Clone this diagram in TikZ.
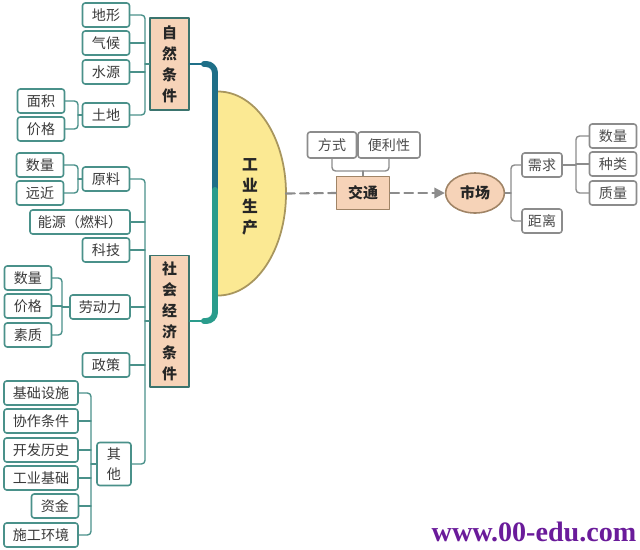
\documentclass[tikz,border=0pt]{standalone}
\usepackage{fontspec}
\setmainfont{Noto Sans CJK SC}
\newfontfamily\wmfont{Liberation Serif}
\usetikzlibrary{arrows.meta,shapes.geometric}
\definecolor{tl}{HTML}{4A918A}
\definecolor{pch}{HTML}{F6D3B8}
\definecolor{ylw}{HTML}{FBE993}
\definecolor{olv}{HTML}{A8965E}
\definecolor{barA}{HTML}{1F6F88}
\definecolor{barB}{HTML}{2A9C8C}
\definecolor{gr}{HTML}{8C8C8C}
\definecolor{brn}{HTML}{A08466}
\definecolor{txt}{HTML}{3A3A3A}
\definecolor{wmc}{HTML}{6A1B9A}

\begin{document}
\begin{tikzpicture}[x=0.02cm, y=-0.02cm, line join=round, line cap=round,
	font=\fontsize{8}{10}\selectfont,
	bx/.style={draw=tl, line width=0.9pt, rounded corners=1.5pt, fill=white, text=txt,
		minimum width=0.94cm, minimum height=0.48cm, inner sep=1pt},
	gbx/.style={bx, draw=gr, text=black!70},
	big/.style={draw=tl!80!black, line width=0.9pt, fill=pch, minimum width=0.78cm,
		font=\fontsize{8.5}{12}\selectfont\bfseries, text=black!85, align=center},
	ln/.style={draw=tl, line width=0.8pt, rounded corners=2pt},
	gln/.style={ln, draw=gr}]
	\useasboundingbox (0,0) rectangle (640,549);
	% spine positions
	\coordinate (zs) at (145,0); \coordinate (ts) at (78,0);
	\coordinate (ss) at (145,0); \coordinate (ys) at (78,0);
	\coordinate (ls) at (62,0);  \coordinate (os) at (91,0);
	\coordinate (ms) at (511,0); \coordinate (xs) at (576,0);
	% natural conditions
	\node[bx] (dx) at (106,15) {地形};
	\node[bx] (qh) at (106,43) {气候};
	\node[bx] (sy) at (106,72) {水源};
	\node[bx] (td) at (106,115) {土地};
	\node[bx] (mj) at (41,101) {面积};
	\node[bx] (jg) at (41,129) {价格};
	\node[big, minimum height=1.84cm] (zr) at (169.5,64) {自\\然\\条\\件};
	\draw[ln] (dx.east) -| (zs |- td.east) -- (td.east);
	\foreach \n in {qh,sy} \draw[ln] (\n.east) -- (\n.east -| zs);
	\draw[ln] (zs |- zr.west) -- (zr.west);
	\draw[ln] (mj.east) -| (ts |- jg.east) -- (jg.east);
	\draw[ln] (ts |- td.west) -- (td.west);
	% social and economic conditions
	\node[bx] (slA) at (40,165) {数量};
	\node[bx] (yj) at (40,193) {远近};
	\node[bx] (yl) at (106,179) {原料};
	\node[bx, minimum width=2cm] (ny) at (80,222) {能源（燃料）};
	\node[bx] (kj) at (106,250) {科技};
	\node[bx] (slB) at (28,278) {数量};
	\node[bx] (jgB) at (28,306) {价格};
	\node[bx] (sz) at (28,335) {素质};
	\node[bx, minimum width=1.2cm] (ldl) at (100,307) {劳动力};
	\node[bx] (zc) at (106,365) {政策};
	\node[big, minimum height=2.6cm] (sh) at (169.5,321) {社\\会\\经\\济\\条\\件};
	\node[bx, minimum width=0.68cm, minimum height=0.86cm, align=center,
		font=\fontsize{8}{11.5}\selectfont] (qt) at (114,464) {其\\他};
	\node[bx, minimum width=1.48cm] (jc) at (41,393) {基础设施};
	\node[bx, minimum width=1.48cm] (xz) at (41,421) {协作条件};
	\node[bx, minimum width=1.48cm] (kf) at (41,450) {开发历史};
	\node[bx, minimum width=1.48cm] (gj) at (41,478) {工业基础};
	\node[bx] (zj) at (55,506) {资金};
	\node[bx, minimum width=1.48cm] (sg) at (41,535) {施工环境};
	\draw[ln] (yl.east) -| (ss |- qt.east) -- (qt.east);
	\foreach \n in {ny,kj,ldl,zc} \draw[ln] (\n.east) -- (\n.east -| ss);
	\draw[ln] (ss |- sh.west) -- (sh.west);
	\draw[ln] (slA.east) -| (ys |- yj.east) -- (yj.east);
	\draw[ln] (ys |- yl.west) -- (yl.west);
	\draw[ln] (slB.east) -| (ls |- sz.east) -- (sz.east);
	\draw[ln] (jgB.east) -- (jgB.east -| ls);
	\draw[ln] (ls |- ldl.west) -- (ldl.west);
	\draw[ln] (jc.east) -| (os |- sg.east) -- (sg.east);
	\foreach \n in {xz,kf,gj,zj} \draw[ln] (\n.east) -- (\n.east -| os);
	\draw[ln] (os |- qt.west) -- (qt.west);
	% industrial production
	\begin{scope}
		\clip (218,80) rectangle (300,310);
		\draw[draw=olv, line width=1pt, fill=ylw] (218,193.5) ellipse [x radius=68, y radius=102];
	\end{scope}
	\node[font=\fontsize{9}{12}\selectfont\bfseries, align=center, text=black!85] (gy) at (250,197) {工\\业\\生\\产};
	\coordinate (gyR) at (286,193.5);
	\draw[line width=1.3pt, barA] (zr.east) -- (208,64);
	\draw[line width=3.4pt, barA, rounded corners=5pt] (204,64) -- (215,64) -- (215,196);
	\draw[line width=3.4pt, barB, rounded corners=5pt] (215,190) -- (215,321) -- (204,321);
	\draw[line width=1.3pt, barB] (sh.east) -- (208,321);
	% transport and market
	\node[big, draw=brn, minimum width=1.06cm, minimum height=0.66cm] (jt) at (363,193) {交通};
	\node[gbx, minimum width=0.98cm, minimum height=0.52cm] (fs) at (332,145) {方式};
	\node[gbx, minimum width=1.24cm, minimum height=0.52cm] (bl) at (389,145) {便利性};
	\coordinate (jb) at (363,171);
	\draw[gln] (fs.south) |- (jb) -| (bl.south);
	\draw[gln] (jb) -- (jt.north);
	\node[ellipse, draw=brn, fill=pch, line width=0.9pt, minimum width=1.16cm, minimum height=0.8cm,
		font=\fontsize{8.5}{10}\selectfont\bfseries, text=black!85] (sc) at (475,193) {市场};
	\draw[gr, line width=1.2pt, dash pattern=on 5pt off 3pt] (gyR) -- (jt.west);
	\draw[gr, line width=1.2pt, dash pattern=on 5pt off 3pt, -{Triangle[length=6pt,width=6pt]}] (jt.east) -- (sc.west);
	\node[gbx, minimum width=0.8cm] (xq) at (542,165) {需求};
	\node[gbx, minimum width=0.8cm] (jl) at (542,221) {距离};
	\node[gbx] (slC) at (613,136) {数量};
	\node[gbx] (zl) at (613,164) {种类};
	\node[gbx] (zlB) at (613,193) {质量};
	\draw[gln] (xq.west) -| (ms |- jl.west) -- (jl.west);
	\draw[gln] (sc.east) -- (sc.east -| ms);
	\draw[gln] (slC.west) -| (xs |- zlB.west) -- (zlB.west);
	\draw[gln] (zl.west) -- (zl.west -| xs);
	\draw[gln] (xq.east) -- (xq.east -| xs);
	% watermark
	\node[font=\wmfont\bfseries\fontsize{16}{16}\selectfont, text=wmc] (wm) at (534,532) {www.00-edu.com};
\end{tikzpicture}
\end{document}
